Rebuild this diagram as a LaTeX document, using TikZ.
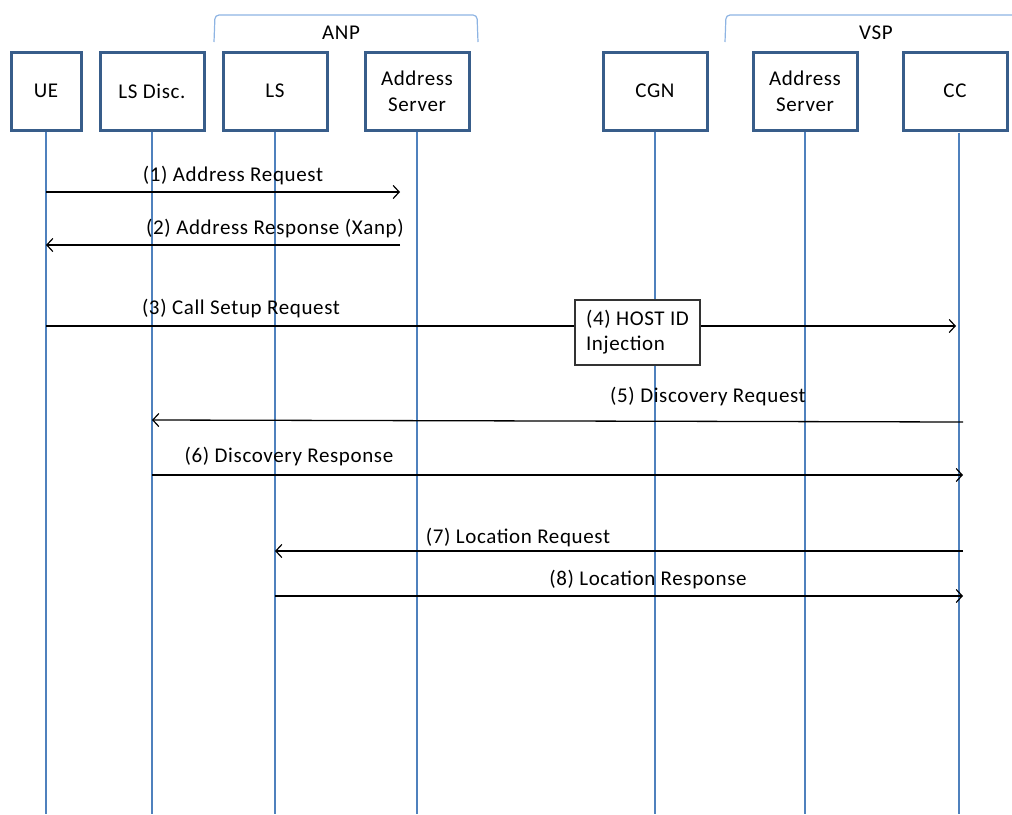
\documentclass[tikz,border=0pt]{standalone}
\usepackage{fontspec}
\setmainfont{Carlito}[LetterSpace=3]
\usetikzlibrary{arrows.meta}
\definecolor{boxblue}{HTML}{385D8A}
\definecolor{lifeblue}{HTML}{4F81BD}
\definecolor{braceblue}{HTML}{8EB4E3}
\begin{document}
\begin{tikzpicture}[x=1pt,y=-1pt,
  actor/.style={draw=boxblue,line width=3pt,minimum width=104pt,minimum height=78pt,inner sep=0pt,align=center,font=\fontsize{21}{26}\selectfont},
  lifeline/.style={draw=lifeblue,line width=1.6pt},
  thinlife/.style={draw=lifeblue,line width=1.1pt},
  msg/.style={draw=black,line width=1.3pt,-{Straight Barb[length=6pt,width=13pt,line width=1.2pt]}},
  lbl/.style={font=\fontsize{21}{24}\selectfont,inner sep=0pt},
  grp/.style={draw=braceblue,line width=1.2pt,rounded corners=4pt},
  note/.style={draw=black!80,line width=1.2pt,fill=white,align=left,font=\fontsize{21}{25}\selectfont,minimum width=125pt,minimum height=65pt,inner xsep=10pt}]
\useasboundingbox (0,0) rectangle (1012,814);
% groups
\coordinate (anpL) at (214,42);
\coordinate (anpR) at (478,42);
\draw[grp] (anpL) -- (215,15) -- (477,15) -- (anpR);
\node[lbl] (anp) at (341,33) {ANP};
\coordinate (vspL) at (725,42);
\draw[grp] (vspL) -- (726,15) -- (1015,15);
\node[lbl] (vsp) at (876,33) {VSP};
% actors
\node[actor,minimum width=70pt] (ue) at (46,91) {UE};
\node[actor] (lsd) at (152,91) {LS Disc.};
\node[actor] (ls) at (275,91) {LS};
\node[actor] (as1) at (417,91) {Address\\Server};
\node[actor] (cgn) at (655,91) {CGN};
\node[actor] (as2) at (805,91) {Address\\Server};
\node[actor] (cc) at (955,91) {CC};
% lifeline ends
\coordinate (ueB) at (46,814);
\coordinate (lsdB) at (152,814);
\coordinate (lsB) at (275,814);
\coordinate (as1B) at (417,814);
\coordinate (cgnB) at (655,814);
\coordinate (as2B) at (805,814);
\coordinate (ccB) at (959,814);
\coordinate (ccT) at (959,132.5);
\draw[lifeline] (ue.south) -- (ueB);
\draw[thinlife] (lsd.south) -- (lsdB);
\draw[lifeline] (ls.south) -- (lsB);
\draw[lifeline] (as1.south) -- (as1B);
\draw[thinlife] (cgn.south) -- (cgnB);
\draw[lifeline] (as2.south) -- (as2B);
\draw[lifeline] (ccT) -- (ccB);
% message points
\coordinate (m1a) at (46,192);  \coordinate (m1b) at (400,192);
\coordinate (m2a) at (400,245); \coordinate (m2b) at (46,245);
\coordinate (m3a) at (46,326);  \coordinate (m3b) at (956,326);
\coordinate (m5a) at (963,422); \coordinate (m5b) at (152,420);
\coordinate (m6a) at (152,475); \coordinate (m6b) at (963,475);
\coordinate (m7a) at (963,551); \coordinate (m7b) at (275,551);
\coordinate (m8a) at (275,596); \coordinate (m8b) at (963,596);
% messages
\draw[msg] (m1a) -- (m1b);
\node[lbl] (l1) at (233,176) {(1) Address Request};
\draw[msg] (m2a) -- (m2b);
\node[lbl] (l2) at (275,229) {(2) Address Response (Xanp)};
\draw[msg] (m3a) -- (m3b);
\node[lbl] (l3) at (241,309) {(3) Call Setup Request};
\node[note] (n4) at (637.5,332.5) {(4) HOST ID\\Injection};
\draw[msg] (m5a) -- (m5b);
\node[lbl] (l5) at (708,397) {(5) Discovery Request};
\draw[msg] (m6a) -- (m6b);
\node[lbl] (l6) at (289,457) {(6) Discovery Response};
\draw[msg] (m7a) -- (m7b);
\node[lbl] (l7) at (518,538) {(7) Location Request};
\draw[msg] (m8a) -- (m8b);
\node[lbl] (l8) at (648,580) {(8) Location Response};
\end{tikzpicture}
\end{document}
